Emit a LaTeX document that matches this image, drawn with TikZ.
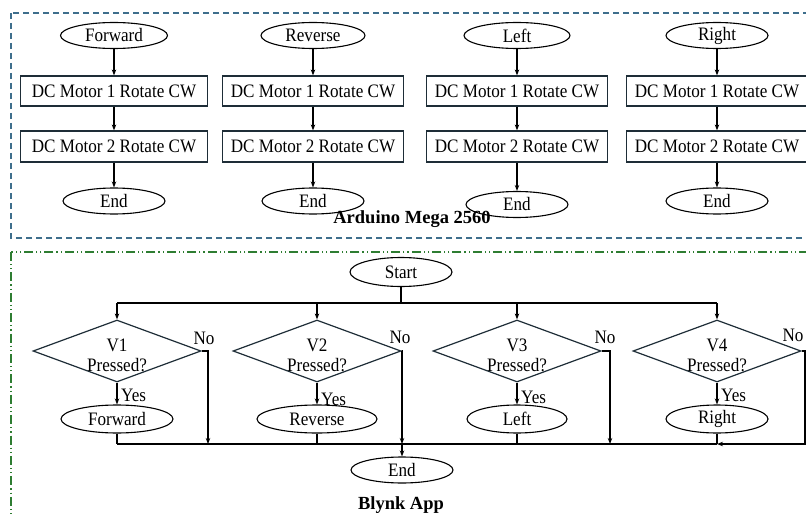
\documentclass[tikz,border=0pt]{standalone}
\usepackage{fontspec}
\setmainfont{Liberation Serif}[FakeStretch=0.9]
\newfontfamily\ttlfont{Liberation Serif}
\usetikzlibrary{shapes.geometric,arrows.meta}
\definecolor{framebl}{RGB}{62,110,140}
\definecolor{framegr}{RGB}{46,125,50}
\definecolor{shapeln}{RGB}{30,45,55}
\begin{document}
\begin{tikzpicture}[x=1pt,y=-1pt,
  txt/.style={font=\fontsize{19}{20}\selectfont},
  ttl/.style={font=\ttlfont\fontsize{18.5}{22}\selectfont\bfseries},
  term/.style={ellipse,draw=black,line width=1.1pt,inner sep=0pt,minimum height=26pt,txt},
  actbox/.style={rectangle,draw=shapeln,line width=1.2pt,inner sep=0pt,minimum width=181pt,minimum height=30pt,txt},
  decis/.style={diamond,draw=shapeln,line width=1.2pt,inner sep=0pt,minimum width=168pt,minimum height=62pt},
  flow/.style={line width=1.1pt,-{Stealth[length=6pt,width=4.5pt]}},
  plain/.style={line width=1.1pt},
  lbl/.style={txt,inner sep=0pt}]
\useasboundingbox (0,0) rectangle (806,516);
\clip (0,0) rectangle (806,516);
\fill[white] (0,0) rectangle (806,516);

% frames
\draw[framebl,line width=1.2pt,dash pattern=on 6pt off 4pt] (11,13) rectangle (815,238);
\draw[framegr,line width=1.2pt,dash pattern=on 9pt off 3pt on 1.2pt off 3pt on 1.2pt off 3pt] (11,252) rectangle (815,530);

% ---------- Arduino Mega 2560 ----------
\node[term,minimum width=107pt] (fa) at (114,35.5) {Forward};
\node[actbox,minimum width=187pt] (fb) at (114,91) {DC Motor 1 Rotate CW};
\node[actbox,minimum width=187pt,minimum height=31pt] (fc) at (114,146.5) {DC Motor 2 Rotate CW};
\node[term,minimum width=102pt] (fd) at (114,201) {End};

\node[term,minimum width=104pt] (ra) at (313,35.5) {Reverse};
\node[actbox] (rb) at (313,91) {DC Motor 1 Rotate CW};
\node[actbox,minimum height=31pt] (rc) at (313,146.5) {DC Motor 2 Rotate CW};
\node[term,minimum width=102pt] (rd) at (313,201) {End};

\node[term,minimum width=106pt] (la) at (517,35.5) {Left};
\node[actbox] (lb) at (517,91) {DC Motor 1 Rotate CW};
\node[actbox,minimum height=31pt] (lc) at (517,146.5) {DC Motor 2 Rotate CW};
\node[term,minimum width=102pt] (ld) at (517,204.5) {End};

\node[term,minimum width=102pt] (ga) at (717,35.5) {Right};
\node[actbox] (gb) at (717,91) {DC Motor 1 Rotate CW};
\node[actbox,minimum height=31pt] (gc) at (717,146.5) {DC Motor 2 Rotate CW};
\node[term,minimum width=102pt] (gd) at (717,201) {End};

\foreach \c in {f,r,l,g}{
  \draw[flow] (\c a.south) -- (\c b.north);
  \draw[flow] (\c b.south) -- (\c c.north);
  \draw[flow] (\c c.south) -- (\c d.north);
}
\node[ttl] (ard) at (412,219) {Arduino Mega 2560};

% ---------- Blynk App ----------
\node[term,minimum width=102pt,minimum height=29pt] (start) at (401,272) {Start};
\coordinate (sj) at (401,303);

\node[decis] (d1) at (117,351) {};
\node[decis] (d2) at (317,351) {};
\node[decis] (d3) at (517,351) {};
\node[decis] (d4) at (717,351) {};
\node[txt,align=center,inner sep=0pt] (t1) at ([yshift=-4pt]d1.center) {V1\\Pressed?};
\node[txt,align=center,inner sep=0pt] (t2) at ([yshift=-4pt]d2.center) {V2\\Pressed?};
\node[txt,align=center,inner sep=0pt] (t3) at ([yshift=-4pt]d3.center) {V3\\Pressed?};
\node[txt,align=center,inner sep=0pt] (t4) at ([yshift=-4pt]d4.center) {V4\\Pressed?};

\draw[plain] (start.south) -- (sj);
\draw[plain] (d1.north |- sj) -- (d4.north |- sj);
\foreach \i in {1,2,3,4}{\draw[flow] (d\i.north |- sj) -- (d\i.north);}

\node[term,minimum width=112pt,minimum height=28pt] (b1) at (117,419) {Forward};
\node[term,minimum width=120pt,minimum height=28pt] (b2) at (317,419) {Reverse};
\node[term,minimum width=100pt,minimum height=28pt] (b3) at (517,419) {Left};
\node[term,minimum width=102pt,minimum height=28pt] (b4) at (717,419) {Right};
\foreach \i in {1,2,3,4}{\draw[flow] (d\i.south) -- (b\i.north);}

\node[lbl,anchor=west] (y1) at (121,395) {Yes};
\node[lbl,anchor=west] (y2) at (321,399) {Yes};
\node[lbl,anchor=west] (y3) at (521,397) {Yes};
\node[lbl,anchor=west] (y4) at (721,395) {Yes};

\node[lbl] (n1l) at (204,338) {No};
\node[lbl] (n2l) at (400,337) {No};
\node[lbl] (n3l) at (605,337) {No};
\node[lbl] (n4l) at (793,335) {No};

\coordinate (mL) at (117,444);
\coordinate (m1) at (208,444);
\coordinate (m2) at (402,444);
\coordinate (m3) at (610,444);
\coordinate (m4) at (805,444);

\foreach \i in {1,2,3,4}{\draw[plain] (b\i.south) -- (b\i.south |- mL);}
\draw[plain] (b1.south |- mL) -- (b4.south |- mL);

\node[term,minimum width=102pt,minimum height=26pt] (end) at (402,470) {End};

\draw[flow] (d1.east) -| (m1);
\draw[flow] (d2.east) -| (m2);
\draw[flow] (m2) -- (end.north);
\draw[flow] (d3.east) -| (m3);
\draw[flow] (d4.east) -| (m4) -- (b4.south |- mL);

\node[ttl] (bly) at (401,505) {Blynk App};
\end{tikzpicture}
\end{document}
